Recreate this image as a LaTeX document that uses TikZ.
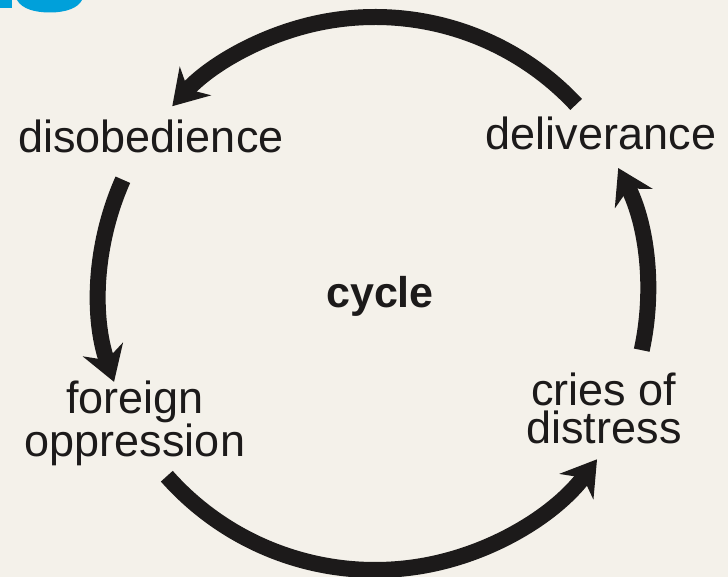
\documentclass[tikz,border=0pt]{standalone}
\usepackage{fontspec}
\setmainfont{Liberation Sans}
\usetikzlibrary{arrows.meta}
\definecolor{bg}{RGB}{244,241,234}
\definecolor{logoblue}{RGB}{0,160,218}
\definecolor{ink}{RGB}{28,26,26}
\begin{document}
\begin{tikzpicture}[x=1pt,y=1pt,
  lbl/.style={inner sep=0pt, anchor=base, text=ink, font=\fontsize{45}{38}\selectfont, align=center},
  cyc/.style={line width=16pt, draw=ink, line cap=butt, -{Stealth[length=34pt,width=42pt,inset=11pt]}}]
\fill[bg] (0,0) rectangle (728,-577);
\useasboundingbox (0,0) rectangle (728,-577);
% partial blue logo at top-left
\fill[logoblue] (0,0) rectangle (12,-8);
\fill[logoblue] (17,0) .. controls (22,-9) and (35,-12.5) .. (50,-12.5) .. controls (66,-12.5) and (78,-8) .. (82,0) -- cycle;
% labels
\node[lbl] (dis) at (151,-153) {disobedience};
\node[lbl] (del) at (601,-150) {deliverance};
\node[lbl] (for) at (135,-456) {foreign\\oppression};
\node[lbl] (cri) at (604,-443) {cries of\\distress};
\node[inner sep=0pt, anchor=base, text=ink, font=\fontsize{43}{43}\selectfont\bfseries] (cyc) at (380,-308) {cycle};
% arc geometry
\coordinate (c) at (375,-292);
\coordinate (a1s) at ([shift={(43:275pt)}]c);
\coordinate (a2s) at ([shift={(156:276pt)}]c);
\coordinate (a3s) at ([shift={(221.5:278pt)}]c);
\coordinate (a4s) at ([shift={(-12.3:273pt)}]c);
\draw[cyc] (a1s) arc[start angle=43, end angle=137.5, radius=275pt];
\draw[cyc] (a2s) arc[start angle=156, end angle=199, radius=276pt];
\draw[cyc] (a3s) arc[start angle=221.5, end angle=323, radius=278pt];
\draw[cyc] (a4s) arc[start angle=-12.3, end angle=27, radius=273pt];
\end{tikzpicture}
\end{document}
